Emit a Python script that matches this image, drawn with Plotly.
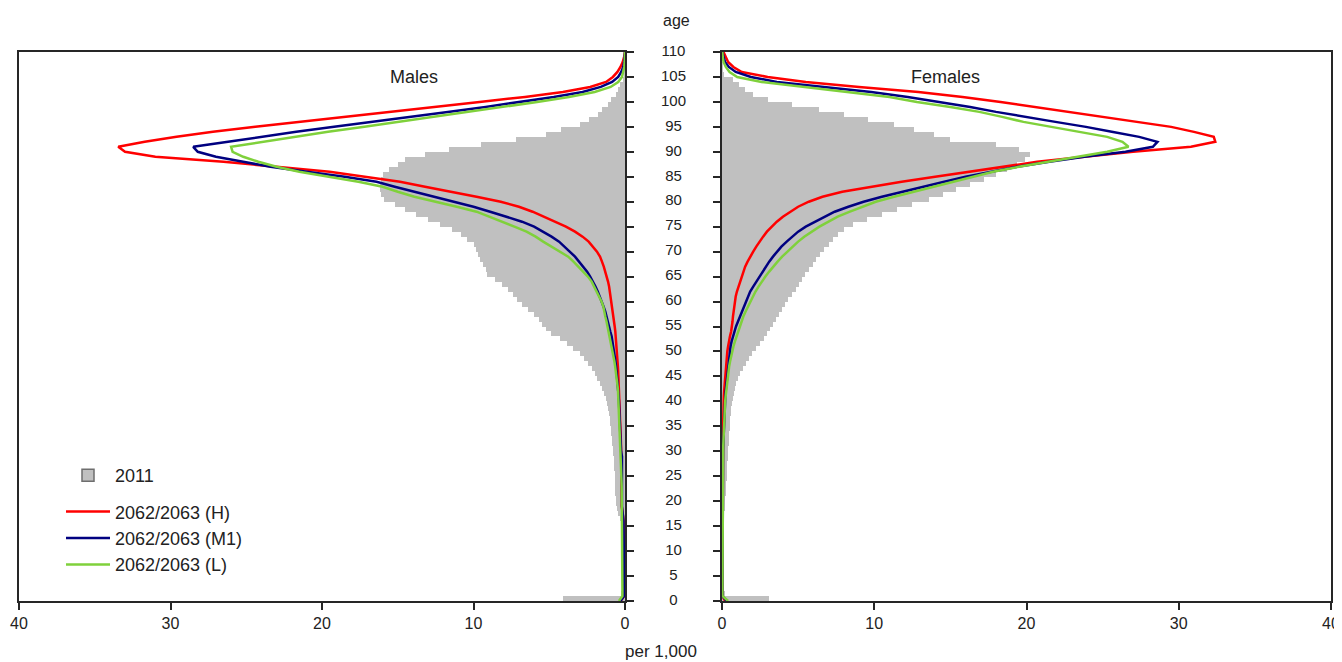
import plotly.graph_objects as go

ages = list(range(0, 111))
age_ticks = list(range(0, 111, 5))
age_labels = [str(a) for a in age_ticks]
x_ticks = [0, 10, 20, 30, 40]

series_names = ["2011", "2062/2063 (H)", "2062/2063 (M1)", "2062/2063 (L)"]

# Males, per 1,000 deaths by single year of age (0..110)
male_2011 = [
    4.1, 0.25, 0.12, 0.1, 0.08, 0.08, 0.08, 0.08, 0.08, 0.08,
    0.08, 0.09, 0.1, 0.12, 0.15, 0.22, 0.32, 0.45, 0.55, 0.6,
    0.62, 0.64, 0.65, 0.66, 0.67, 0.68, 0.7, 0.72, 0.74, 0.76,
    0.8, 0.83, 0.86, 0.9, 0.93, 0.96, 1.0, 1.05, 1.1, 1.18,
    1.28, 1.38, 1.5, 1.65, 1.82, 2.0, 2.2, 2.45, 2.7, 3.0,
    3.4, 3.8, 4.3, 4.9, 5.2, 5.5, 5.7, 6.0, 6.4, 6.8,
    7.1, 7.4, 7.75, 8.1, 8.6, 9.1, 9.2, 9.4, 9.6, 9.7,
    9.85, 10.0, 10.4, 10.8, 11.4, 12.2, 13.0, 13.8, 14.5, 15.2,
    15.9, 16.1, 16.2, 16.2, 16.1, 16.0, 15.6, 15.0, 14.5, 13.2,
    11.6, 9.5, 7.2, 5.2, 4.2, 3.0, 2.4, 1.8, 1.5, 1.1,
    0.9, 0.6, 0.45, 0.3, 0.15, 0.06, 0.03, 0.01, 0.0, 0.0, 0.0,
]
male_H = [
    0.3, 0.05, 0.05, 0.05, 0.05, 0.05, 0.05, 0.05, 0.05, 0.05,
    0.05, 0.05, 0.05, 0.05, 0.06, 0.08, 0.1, 0.13, 0.18, 0.22,
    0.22, 0.22, 0.22, 0.22, 0.22, 0.22, 0.22, 0.22, 0.23, 0.24,
    0.25, 0.26, 0.27, 0.28, 0.29, 0.3, 0.31, 0.32, 0.33, 0.34,
    0.35, 0.36, 0.37, 0.39, 0.41, 0.43, 0.45, 0.47, 0.49, 0.51,
    0.53, 0.55, 0.57, 0.6, 0.64, 0.68, 0.72, 0.76, 0.8, 0.84,
    0.88, 0.93, 0.98, 1.05, 1.12, 1.2, 1.3, 1.4, 1.52, 1.65,
    1.85, 2.1, 2.4, 2.8, 3.3, 3.9, 4.6, 5.3, 6.1, 7.0,
    8.2, 9.8, 11.6, 13.2, 14.85, 17.2, 19.5, 23.0, 26.5, 31.0,
    33.0, 33.45, 31.7, 29.6, 27.2, 24.4, 21.45, 18.7, 15.9, 12.9,
    9.6, 6.6, 4.1, 2.3, 1.25, 0.8, 0.5, 0.3, 0.15, 0.06, 0.0,
]
male_M1 = [
    0.3, 0.05, 0.05, 0.05, 0.05, 0.05, 0.05, 0.05, 0.05, 0.05,
    0.05, 0.05, 0.05, 0.05, 0.06, 0.08, 0.1, 0.13, 0.17, 0.2,
    0.2, 0.2, 0.2, 0.2, 0.2, 0.2, 0.2, 0.2, 0.2, 0.2,
    0.26, 0.27, 0.28, 0.29, 0.3, 0.31, 0.32, 0.34, 0.36, 0.38,
    0.4, 0.42, 0.44, 0.46, 0.49, 0.52, 0.55, 0.59, 0.63, 0.67,
    0.72, 0.77, 0.82, 0.88, 0.97, 1.05, 1.12, 1.2, 1.3, 1.42,
    1.53, 1.65, 1.8, 1.95, 2.1, 2.3, 2.5, 2.75, 3.0, 3.3,
    3.65, 4.0, 4.35, 4.85, 5.4, 6.0, 6.8, 7.8, 8.9, 10.0,
    11.3, 12.7, 14.0, 15.2, 16.4, 18.5, 21.0, 23.4, 25.2, 27.0,
    28.2, 28.5, 26.2, 24.0, 21.7, 19.2, 16.6, 14.1, 11.7, 9.2,
    6.9, 4.7, 2.8, 1.6, 0.85, 0.45, 0.25, 0.12, 0.06, 0.03, 0.0,
]
male_L = [
    0.4, 0.17, 0.17, 0.17, 0.17, 0.17, 0.17, 0.17, 0.17, 0.17,
    0.17, 0.17, 0.17, 0.17, 0.17, 0.17, 0.17, 0.17, 0.18, 0.2,
    0.2, 0.2, 0.21, 0.22, 0.23, 0.24, 0.25, 0.26, 0.27, 0.28,
    0.3, 0.31, 0.32, 0.33, 0.34, 0.35, 0.36, 0.37, 0.38, 0.39,
    0.4, 0.43, 0.46, 0.49, 0.52, 0.56, 0.6, 0.65, 0.7, 0.76,
    0.82, 0.88, 0.94, 1.0, 1.08, 1.15, 1.22, 1.3, 1.36, 1.43,
    1.55, 1.7, 1.85, 2.0, 2.2, 2.45, 2.75, 3.05, 3.4, 3.75,
    4.3, 4.9, 5.4, 5.9, 6.5, 7.3, 8.1, 8.9, 9.8, 11.1,
    12.5, 13.9, 15.0, 16.0, 17.6, 19.5, 21.5, 23.0, 24.2, 25.2,
    25.9, 26.0, 23.9, 21.9, 19.6, 17.2, 14.85, 12.6, 10.3, 8.0,
    5.8, 3.7, 2.0, 0.95, 0.45, 0.2, 0.1, 0.05, 0.02, 0.01, 0.0,
]

# Females
female_2011 = [
    3.1, 0.2, 0.08, 0.07, 0.07, 0.07, 0.07, 0.07, 0.07, 0.07,
    0.07, 0.07, 0.08, 0.09, 0.1, 0.12, 0.14, 0.16, 0.18, 0.2,
    0.22, 0.24, 0.26, 0.28, 0.3, 0.32, 0.34, 0.36, 0.38, 0.4,
    0.42, 0.44, 0.46, 0.48, 0.5, 0.52, 0.54, 0.56, 0.6, 0.64,
    0.7, 0.78, 0.86, 0.95, 1.05, 1.18, 1.35, 1.55, 1.78, 2.0,
    2.25, 2.5, 2.75, 2.95, 3.15, 3.35, 3.55, 3.75, 3.95, 4.15,
    4.35, 4.6, 4.85, 5.05, 5.25, 5.45, 5.7, 5.95, 6.2, 6.45,
    6.7, 7.0, 7.3, 7.6, 8.0, 8.6, 9.5, 10.5, 11.5, 12.5,
    13.6, 14.5, 15.4, 16.3, 17.2, 18.0, 18.7, 19.4, 19.9, 20.2,
    19.5, 18.0, 15.0, 13.9, 12.6, 11.3, 9.6, 8.0, 6.4, 4.6,
    3.0, 2.05, 1.5, 1.1, 0.7, 0.1, 0.03, 0.01, 0.0, 0.0, 0.0,
]
female_H = [
    0.2, 0.03, 0.03, 0.03, 0.03, 0.03, 0.03, 0.03, 0.03, 0.03,
    0.03, 0.03, 0.03, 0.03, 0.03, 0.03, 0.03, 0.03, 0.03, 0.03,
    0.04, 0.04, 0.04, 0.04, 0.04, 0.04, 0.04, 0.04, 0.04, 0.04,
    0.05, 0.05, 0.06, 0.06, 0.07, 0.07, 0.08, 0.08, 0.09, 0.1,
    0.11, 0.12, 0.14, 0.16, 0.18, 0.2, 0.22, 0.25, 0.28, 0.31,
    0.35, 0.4, 0.45, 0.52, 0.6, 0.66, 0.69, 0.72, 0.76, 0.8,
    0.85, 0.9, 0.98, 1.08, 1.18, 1.28, 1.4, 1.52, 1.68, 1.85,
    2.05, 2.25, 2.45, 2.7, 2.95, 3.25, 3.6, 4.0, 4.5, 5.0,
    5.7, 6.6, 7.9, 9.8, 11.8, 14.0, 16.2, 18.3, 20.7, 23.8,
    27.0, 30.8, 32.4, 32.3, 31.0, 29.5, 27.3, 25.0, 22.8, 20.6,
    18.3, 15.8, 12.9, 9.0, 5.5, 3.0, 1.3, 0.75, 0.4, 0.25, 0.1,
]
female_M1 = [
    0.3, 0.03, 0.03, 0.03, 0.03, 0.03, 0.03, 0.03, 0.03, 0.03,
    0.03, 0.03, 0.03, 0.03, 0.03, 0.03, 0.03, 0.03, 0.03, 0.03,
    0.05, 0.05, 0.05, 0.05, 0.05, 0.05, 0.05, 0.05, 0.05, 0.05,
    0.07, 0.08, 0.09, 0.1, 0.11, 0.12, 0.13, 0.14, 0.16, 0.18,
    0.2, 0.22, 0.24, 0.27, 0.3, 0.33, 0.36, 0.4, 0.44, 0.47,
    0.5, 0.56, 0.63, 0.72, 0.82, 0.92, 1.05, 1.18, 1.3, 1.42,
    1.55, 1.7, 1.85, 2.05, 2.25, 2.45, 2.65, 2.9, 3.1, 3.35,
    3.6, 3.9, 4.25, 4.6, 5.0, 5.5, 6.1, 6.7, 7.4, 8.3,
    9.3, 10.5, 11.8, 13.2, 14.6, 16.0, 17.6, 19.4, 21.5, 23.8,
    26.5, 28.3, 28.6, 27.4, 25.6, 23.9, 21.9, 19.8, 18.0, 16.3,
    14.3, 12.2, 9.8, 6.6, 3.6, 1.9, 0.9, 0.45, 0.2, 0.1, 0.03,
]
female_L = [
    0.4, 0.03, 0.03, 0.03, 0.03, 0.03, 0.03, 0.03, 0.03, 0.03,
    0.03, 0.03, 0.03, 0.03, 0.03, 0.03, 0.03, 0.03, 0.03, 0.03,
    0.05, 0.05, 0.05, 0.05, 0.05, 0.05, 0.05, 0.05, 0.05, 0.05,
    0.07, 0.08, 0.09, 0.1, 0.11, 0.12, 0.13, 0.15, 0.17, 0.19,
    0.21, 0.24, 0.27, 0.3, 0.34, 0.38, 0.42, 0.47, 0.53, 0.59,
    0.65, 0.75, 0.85, 0.95, 1.05, 1.15, 1.28, 1.4, 1.55, 1.7,
    1.85, 2.0, 2.2, 2.4, 2.6, 2.85, 3.1, 3.35, 3.65, 3.95,
    4.3, 4.6, 5.0, 5.4, 5.9, 6.4, 7.0, 7.6, 8.4, 9.2,
    10.1, 11.3, 12.6, 14.0, 15.2, 16.4, 17.8, 19.5, 21.5, 23.5,
    25.3, 26.7, 26.3, 25.3, 23.5, 21.5, 19.8, 18.4, 16.9, 15.0,
    12.8, 11.0, 8.3, 5.4, 2.6, 1.0, 0.5, 0.25, 0.1, 0.05, 0.02,
]

GRAY = "#C0C0C0"
RED = "#FF0000"
BLUE = "#000080"
GREEN = "#7FD13B"
AXIS = "#262626"
TXT = "#222222"
FONT = "Liberation Sans, Arial, sans-serif"

# the page body adds an 8px offset; figure coordinates are page coordinates minus 8
OFF = 8
W, H = 1342 - OFF, 662 - OFF
left_px = (19 - OFF, 625 - OFF)
right_px = (722 - OFF, 1331 - OFF)
top_px, bottom_px = 52 - OFF, 601 - OFF
plot_h = bottom_px - top_px


def py(page_y):
    return (bottom_px - (page_y - OFF)) / plot_h


def px(page_x):
    return (page_x - OFF) / W


fig = go.Figure()

panels = [
    ("x", "y", male_2011, male_H, male_M1, male_L, True),
    ("x2", "y2", female_2011, female_H, female_M1, female_L, False),
]
for xa, ya, base, sH, sM, sL, show in panels:
    fig.add_trace(go.Bar(
        x=base, y=ages, orientation="h", width=1, offset=0,
        marker=dict(color=GRAY, line=dict(width=0)),
        name=series_names[0], showlegend=False, xaxis=xa, yaxis=ya,
        hoverinfo="skip",
    ))
    for vals, col, nm in [(sH, RED, series_names[1]), (sM, BLUE, series_names[2]), (sL, GREEN, series_names[3])]:
        fig.add_trace(go.Scatter(
            x=vals, y=ages, mode="lines", line=dict(color=col, width=2.5),
            name=nm, showlegend=show, legendgroup="proj", xaxis=xa, yaxis=ya,
            hoverinfo="skip",
        ))

# legend entry for the 2011 distribution (outlined swatch)
fig.add_trace(go.Bar(
    x=[None], y=[None], orientation="h", name=series_names[0],
    marker=dict(color=GRAY, line=dict(color="#6E6E6E", width=1.5)),
    showlegend=True, legendgroup="base", xaxis="x", yaxis="y",
    legendrank=1,
))

# centre age labels
fig.add_trace(go.Scatter(
    x=[0] * len(age_ticks), y=age_ticks, text=age_labels, mode="text",
    textfont=dict(family=FONT, size=15, color=TXT),
    textposition="middle center", showlegend=False, cliponaxis=False,
    xaxis="x3", yaxis="y3", hoverinfo="skip",
))

ax_common = dict(
    showline=True, linecolor=AXIS, linewidth=1.5, mirror=True,
    ticks="outside", ticklen=7, tickwidth=1.5, tickcolor=AXIS,
    showgrid=False, zeroline=False, automargin=False,
    tickfont=dict(family=FONT, size=16, color=TXT),
)

fig.update_layout(
    width=W, height=H,
    margin=dict(l=0, r=0, t=top_px, b=H - bottom_px, autoexpand=False),
    paper_bgcolor="white", plot_bgcolor="white",
    barmode="overlay", bargap=0,
    showlegend=True,
    legend=dict(
        x=px(61), y=py(457), xanchor="left", yanchor="top",
        font=dict(family=FONT, size=18, color=TXT),
        traceorder="grouped", tracegroupgap=10, itemwidth=44,
        bgcolor="rgba(0,0,0,0)",
    ),
    xaxis=dict(domain=[left_px[0] / W, left_px[1] / W], range=[40, 0],
               tickvals=x_ticks, anchor="y", **ax_common),
    yaxis=dict(domain=[0, 1], range=[0, 110], side="right", anchor="x",
               tickvals=age_ticks, showticklabels=False, **ax_common),
    xaxis2=dict(domain=[right_px[0] / W, right_px[1] / W], range=[0, 40],
                tickvals=x_ticks, anchor="y2", **ax_common),
    yaxis2=dict(domain=[0, 1], range=[0, 110], side="left", anchor="x2",
                tickvals=age_ticks, showticklabels=False, **ax_common),
    xaxis3=dict(domain=[left_px[1] / W, right_px[0] / W], range=[-1, 1],
                visible=False, anchor="y3", automargin=False),
    yaxis3=dict(domain=[0, 1], range=[0, 110], visible=False, anchor="x3", automargin=False),
    annotations=[
        dict(text="Males", x=px(414), y=py(77), xref="paper", yref="paper",
             xanchor="center", yanchor="middle",
             showarrow=False, font=dict(family=FONT, size=18, color=TXT)),
        dict(text="Females", x=px(945), y=py(77), xref="paper", yref="paper",
             xanchor="center", yanchor="middle",
             showarrow=False, font=dict(family=FONT, size=18, color=TXT)),
        dict(text="age", x=px(676), y=py(20), xref="paper", yref="paper",
             xanchor="center", yanchor="middle",
             showarrow=False, font=dict(family=FONT, size=16, color=TXT)),
        dict(text="per 1,000", x=px(661), y=py(651), xref="paper", yref="paper",
             xanchor="center", yanchor="middle",
             showarrow=False, font=dict(family=FONT, size=17, color=TXT)),
    ],
)

fig.write_html("out.html")
